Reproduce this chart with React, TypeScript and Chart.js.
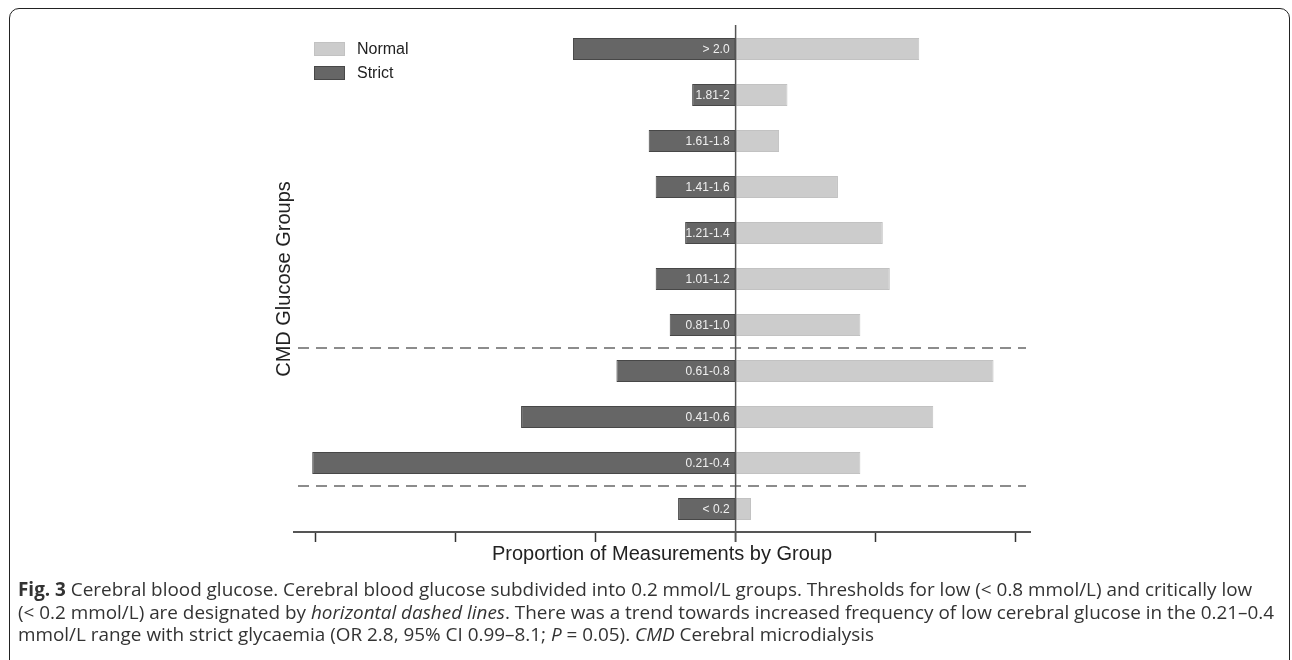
import React, { useEffect, useRef } from "react";
import { Chart, registerables } from "chart.js";

Chart.register(...registerables);

const categories = ["> 2.0", "1.81-2", "1.61-1.8", "1.41-1.6", "1.21-1.4", "1.01-1.2", "0.81-1.0", "0.61-0.8", "0.41-0.6", "0.21-0.4", "< 0.2"];
const normalValues = [0.131, 0.037, 0.031, 0.073, 0.105, 0.110, 0.089, 0.184, 0.141, 0.089, 0.011];
const strictValues = [0.116, 0.031, 0.062, 0.057, 0.036, 0.057, 0.047, 0.085, 0.153, 0.302, 0.041];
const xTicks = [-0.3, -0.2, -0.1, 0, 0.1, 0.2];
const thresholdAfter = ["0.81-1.0", "0.21-0.4"];
const seriesNames = ["Normal", "Strict"];

const labelPlugin = {
  id: "customDraw",
  afterDatasetsDraw(chart: any) {
    const { ctx, chartArea, scales } = chart;
    const x = scales.x;
    const y = scales.y;
    const zero = x.getPixelForValue(0);
    ctx.save();
    // bar labels
    ctx.font = "12px 'Liberation Sans', Arial, sans-serif";
    ctx.fillStyle = "#f0f0f0";
    ctx.textAlign = "right";
    ctx.textBaseline = "middle";
    categories.forEach((c, i) => {
      ctx.fillText(c, zero - 6, y.getPixelForValue(i) + 0.5);
    });
    // dashed threshold lines
    ctx.strokeStyle = "#8c8c8c";
    ctx.lineWidth = 2;
    ctx.setLineDash([11, 7]);
    thresholdAfter.forEach((c) => {
      const i = categories.indexOf(c);
      const py = (y.getPixelForValue(i) + y.getPixelForValue(i + 1)) / 2;
      ctx.beginPath();
      ctx.moveTo(chartArea.left + 4, py);
      ctx.lineTo(chartArea.right - 4, py);
      ctx.stroke();
    });
    ctx.setLineDash([]);
    // zero line
    ctx.strokeStyle = "#555";
    ctx.lineWidth = 1.5;
    ctx.beginPath();
    ctx.moveTo(zero, chartArea.top - 1);
    ctx.lineTo(zero, chartArea.bottom + 10);
    ctx.stroke();
    // legend
    const ds = chart.data.datasets;
    ctx.textAlign = "left";
    ctx.font = "16px 'Liberation Sans', Arial, sans-serif";
    ds.forEach((d: any, i: number) => {
      const bx = chartArea.left + 20;
      const by = chartArea.top + 16 + i * 24;
      ctx.fillStyle = d.backgroundColor;
      ctx.strokeStyle = d.borderColor;
      ctx.lineWidth = 1;
      ctx.fillRect(bx, by, 31, 14);
      ctx.strokeRect(bx + 0.5, by + 0.5, 30, 13);
      ctx.fillStyle = "#222";
      ctx.fillText(d.label, bx + 43, by + 7.5);
    });
    ctx.restore();
  },
};

export default function App() {
  const ref = useRef<HTMLCanvasElement>(null);
  useEffect(() => {
    if (!ref.current) return;
    const chart = new Chart(ref.current, {
      type: "bar",
      data: {
        labels: categories,
        datasets: [
          {
            label: seriesNames[0],
            data: normalValues,
            backgroundColor: "#cccccc",
            borderColor: "#c2c2c2",
            borderWidth: 1,
            borderSkipped: false,
          },
          {
            label: seriesNames[1],
            data: strictValues.map((v) => -v),
            backgroundColor: "#666666",
            borderColor: "#474747",
            borderWidth: 1,
            borderSkipped: false,
          },
        ],
      },
      options: {
        indexAxis: "y",
        responsive: false,
        animation: false,
        devicePixelRatio: 1,
        datasets: { bar: { barPercentage: 0.48, categoryPercentage: 1 } },
        layout: { padding: { left: 272, right: 262, top: 26, bottom: 14 } },
        plugins: { legend: { display: false }, tooltip: { enabled: false } },
        scales: {
          x: {
            type: "linear",
            stacked: true,
            min: -0.315,
            max: 0.21,
            afterBuildTicks: (s: any) => {
              s.ticks = xTicks.map((v) => ({ value: v }));
            },
            ticks: { display: false },
            grid: {
              display: true,
              drawOnChartArea: false,
              drawTicks: true,
              tickLength: 10,
              tickColor: "#333",
              tickWidth: 1.5,
            },
            border: { display: true, color: "#555", width: 2 },
            title: {
              display: true,
              text: "Proportion of Measurements by Group",
              color: "#222",
              font: { size: 20, family: "'Liberation Sans', Arial, sans-serif" },
              padding: { top: 0, bottom: 0 },
            },
          },
          y: {
            stacked: true,
            ticks: { display: false },
            grid: { display: false },
            border: { display: false },
            title: {
              display: true,
              text: "CMD Glucose Groups",
              color: "#222",
              font: { size: 20, family: "'Liberation Sans', Arial, sans-serif" },
              padding: { top: 0, bottom: -10 },
            },
          },
        },
      },
      plugins: [labelPlugin],
    });
    return () => chart.destroy();
  }, []);

  const cap: React.CSSProperties = {
    position: "absolute",
    left: 18,
    top: 578,
    fontFamily: "'Open Sans', Lato, sans-serif",
    fontSize: 18.9,
    lineHeight: "22.5px",
    color: "#333",
    whiteSpace: "nowrap",
  };

  return (
    <div style={{ position: "fixed", left: 0, top: 0, width: 1292, height: 660, overflow: "hidden", background: "#fff" }}>
      <div
        style={{
          position: "absolute",
          left: 9,
          top: 8,
          width: 1279,
          height: 660,
          border: "1.5px solid #222",
          borderRadius: 10,
        }}
      />
      <canvas ref={ref} width={1292} height={580} style={{ position: "absolute", left: 0, top: 0 }} />
      <div style={cap}>
        <div>
          <b>Fig. 3</b> Cerebral blood glucose. Cerebral blood glucose subdivided into 0.2 mmol/L groups. Thresholds for low (&lt; 0.8 mmol/L) and critically low
        </div>
        <div>
          (&lt; 0.2 mmol/L) are designated by <i>horizontal dashed lines</i>. There was a trend towards increased frequency of low cerebral glucose in the 0.21–0.4
        </div>
        <div>
          mmol/L range with strict glycaemia (OR 2.8, 95% CI 0.99–8.1; <i>P</i> = 0.05). <i>CMD</i> Cerebral microdialysis
        </div>
      </div>
    </div>
  );
}
